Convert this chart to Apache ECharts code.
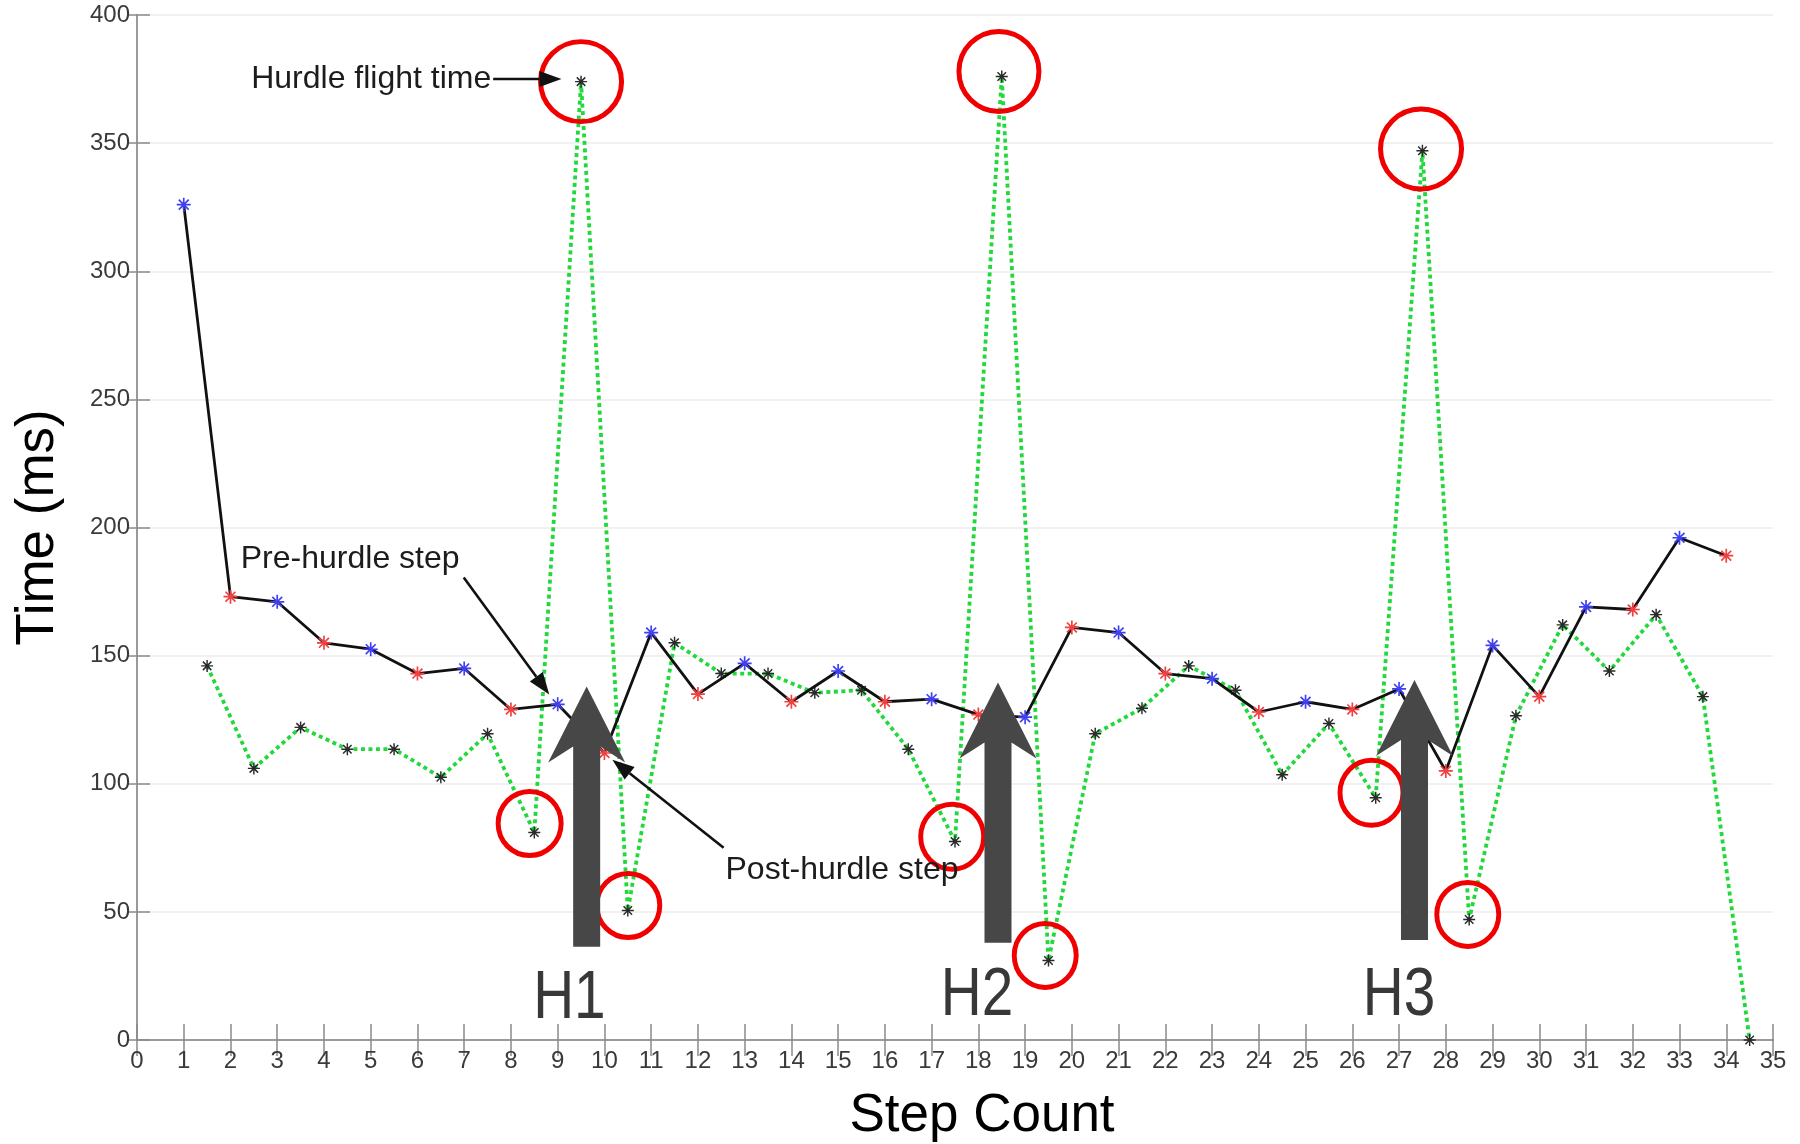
<!DOCTYPE html>
<html>
<head>
<meta charset="utf-8">
<title>Step time</title>
<script src="https://cdn.jsdelivr.net/npm/echarts@6/dist/echarts.min.js"></script>
<style>
html,body{margin:0;padding:0;background:#fff;}
#chart{width:1800px;height:1144px;}
</style>
</head>
<body>
<div id="chart"></div>
<script>
// contact time, one per step (black line, red/blue markers)
var stepX = [1,2,3,4,5,6,7,8,9,10,11,12,13,14,15,16,17,18,19,20,21,22,23,24,25,26,27,28,29,30,31,32,33,34];
var contactTime = [326,173,171,155,152.5,143,145,129,131,112,159,135,147,132,144,132,133,127,126,161,159,143,141,128,132,129,137,105,154,134,169,168,196,189];
// flight time, between steps (green dotted line)
var flightX = [1.5,2.5,3.5,4.5,5.5,6.5,7.5,8.5,9.5,10.5,11.5,12.5,13.5,14.5,15.5,16.5,17.5,18.5,19.5,20.5,21.5,22.5,23.5,24.5,25.5,26.5,27.5,28.5,29.5,30.5,31.5,32.5,33.5,34.5];
var flightTime = [146,106,122,113.5,113.5,102.5,119.5,81,374,50.5,155,143,143,135.5,136.5,113.5,77.5,376,31,119.5,129.5,146,136.5,103.5,123.5,94.5,347,47,126.5,162,144,166,134,0];

// red rings
var ringX = [9.5,18.44,27.47,8.4,10.51,17.44,19.43,26.41,28.47];
var ringY = [374,378,347.7,84.5,52.5,79.3,33,96.5,49];
var ringW = [81,80,81,63,63,63,62,63,62];
var ringH = [80,80,80,64,64,65,64,65,64];

// hurdle arrows
var hurdleName = ['H1','H2','H3'];
var hurdleX = [9.62,18.42,27.33];
var hurdleBase = [36.4,38,39];
var hurdleTip = [138,139.5,140.5];
var hurdleLabelX = [9.25,17.97,27.0];
var hurdleLabelY = [15.8,17.2,17.2];

// callouts
var noteText = ['Hurdle flight time','Pre-hurdle step','Post-hurdle step'];
var noteAlign = ['right','left','left'];
var noteX = [7.58,2.22,12.59];
var noteY = [375,187.5,66.4];
var noteFrom = [[7.62,375],[6.99,180.5],[12.55,75]];
var noteTo = [[9.08,375],[8.82,134.8],[10.17,109.4]];

var ASTER = 'path://M-1.2,-10L1.2,-10L1.2,10L-1.2,10Z M-10,-1.2L10,-1.2L10,1.2L-10,1.2Z M-6.22,-7.92L7.92,6.22L6.22,7.92L-7.92,-6.22Z M-7.92,6.22L6.22,-7.92L7.92,-6.22L-6.22,7.92Z';
var FONT = 'Liberation Sans, Arial, Helvetica, sans-serif';

function pairs(xs, ys){
	return xs.map(function(x,i){ return [x, ys[i]]; });
}

function renderHurdle(params, api){
	var x = api.value(0);
	var b = api.coord([x, api.value(1)]);
	var t = api.coord([x, api.value(2)]);
	var cx = t[0], sw = 13.5, hw = 38.5, hl = 76, nt = 60;
	return {
		type:'polygon',
		shape:{points:[
			[cx, t[1]], [cx+hw, t[1]+hl], [cx+sw, t[1]+nt], [cx+sw, b[1]],
			[cx-sw, b[1]], [cx-sw, t[1]+nt], [cx-hw, t[1]+hl]
		]},
		style:{fill:'#474747'}
	};
}

function renderHurdleLabel(params, api){
	var p = api.coord([api.value(0), api.value(1)]);
	return {
		type:'text', x:p[0], y:p[1], scaleX:0.9, scaleY:1.08,
		style:{text:hurdleName[params.dataIndex], x:0, y:0, fill:'#383838',
			font:'63px ' + FONT, align:'center', verticalAlign:'middle',
			textAlign:'center', textVerticalAlign:'middle'}
	};
}

function renderNote(params, api){
	var p = api.coord([api.value(0), api.value(1)]);
	var a = noteAlign[params.dataIndex];
	return {
		type:'text', x:p[0], y:p[1],
		style:{text:noteText[params.dataIndex], x:0, y:0, fill:'#1c1c1c',
			font:'32px ' + FONT, align:a, verticalAlign:'middle',
			textAlign:a, textVerticalAlign:'middle'}
	};
}

function renderNoteArrow(params, api){
	var p1 = api.coord([api.value(0), api.value(1)]);
	var p2 = api.coord([api.value(2), api.value(3)]);
	var dx = p2[0]-p1[0], dy = p2[1]-p1[1];
	var len = Math.sqrt(dx*dx+dy*dy);
	var ux = dx/len, uy = dy/len, hl = 22, hw = 8;
	var bx = p2[0]-ux*hl, by = p2[1]-uy*hl;
	return {
		type:'group',
		children:[
			{type:'line', shape:{x1:p1[0], y1:p1[1], x2:bx, y2:by}, style:{stroke:'#111', lineWidth:2.6}},
			{type:'polygon', shape:{points:[[p2[0],p2[1]],[bx-uy*hw,by+ux*hw],[bx+uy*hw,by-ux*hw]]}, style:{fill:'#111'}}
		]
	};
}

var tickStyle = {show:true, inside:true, length:16, lineStyle:{color:'#8a8a8a', width:1.5}};
var lineAxis = {show:true, lineStyle:{color:'#9a9a9a', width:2}};

var option = {
	animation:false,
	backgroundColor:'#fff',
	grid:{left:137, right:27, top:15, bottom:104, containLabel:false, outerBoundsMode:'none'},
	xAxis:[{
		type:'value', min:0, max:35, interval:1, position:'bottom',
		axisLine:lineAxis, axisTick:tickStyle, splitLine:{show:false},
		axisLabel:{color:'#3a3a3a', fontSize:24, fontFamily:FONT, margin:9},
		name:'Step Count', nameLocation:'middle', nameGap:50,
		nameTextStyle:{color:'#000', fontSize:53, fontFamily:FONT, padding:[0,0,0,54]}
	},{
		type:'value', min:0, max:35, interval:1, position:'top',
		axisLine:lineAxis, axisTick:tickStyle, axisLabel:{show:false}, splitLine:{show:false}
	}],
	yAxis:[{
		type:'value', min:0, max:400, interval:50, position:'left',
		axisLine:lineAxis, axisTick:{show:true, inside:true, length:13, lineStyle:{color:'#8a8a8a', width:1.5}},
		splitLine:{show:true, lineStyle:{color:'#ededed', width:1.5}},
		axisLabel:{color:'#3a3a3a', fontSize:24, fontFamily:FONT, margin:7},
		name:'Time (ms)', nameLocation:'middle', nameGap:72, nameRotate:90,
		nameTextStyle:{color:'#000', fontSize:53, fontFamily:FONT}
	},{
		type:'value', min:0, max:400, interval:50, position:'right',
		axisLine:lineAxis, axisTick:{show:true, inside:true, length:10, lineStyle:{color:'#8a8a8a', width:1.5}},
		axisLabel:{show:false}, splitLine:{show:false}
	}],
	series:[{
		name:'flight', type:'line', data:pairs(flightX, flightTime),
		symbol:ASTER, symbolSize:12, showAllSymbol:true,
		lineStyle:{color:'#22d83c', width:3.8, type:[4,3.5]},
		itemStyle:{color:'#2a2a2a'},
		z:2
	},{
		name:'contact', type:'line', data:pairs(stepX, contactTime),
		symbol:ASTER, symbolSize:14, showAllSymbol:true,
		lineStyle:{color:'#111', width:2.8},
		itemStyle:{color:function(p){ return stepX[p.dataIndex] % 2 ? '#4040f0' : '#f04040'; }},
		z:3
	},{
		name:'rings', type:'scatter', data:ringX.map(function(x,i){ return [x, ringY[i], ringW[i], ringH[i]]; }),
		symbol:'circle', symbolSize:function(v){ return [v[2], v[3]]; },
		itemStyle:{color:'rgba(0,0,0,0)', borderColor:'#f00000', borderWidth:5, opacity:1},
		silent:true, z:4
	},{
		name:'hurdles', type:'custom', renderItem:renderHurdle, clip:false,
		data:hurdleX.map(function(x,i){ return [x, hurdleBase[i], hurdleTip[i]]; }),
		silent:true, z:5
	},{
		name:'hurdleLabels', type:'custom', renderItem:renderHurdleLabel, clip:false,
		data:pairs(hurdleLabelX, hurdleLabelY), silent:true, z:5
	},{
		name:'notes', type:'custom', renderItem:renderNote, clip:false,
		data:pairs(noteX, noteY), silent:true, z:5
	},{
		name:'noteArrows', type:'custom', renderItem:renderNoteArrow, clip:false,
		data:noteFrom.map(function(f,i){ return [f[0], f[1], noteTo[i][0], noteTo[i][1]]; }),
		silent:true, z:5
	}]
};

var chart = echarts.init(document.getElementById('chart'));
chart.setOption(option);
</script>
</body>
</html>
